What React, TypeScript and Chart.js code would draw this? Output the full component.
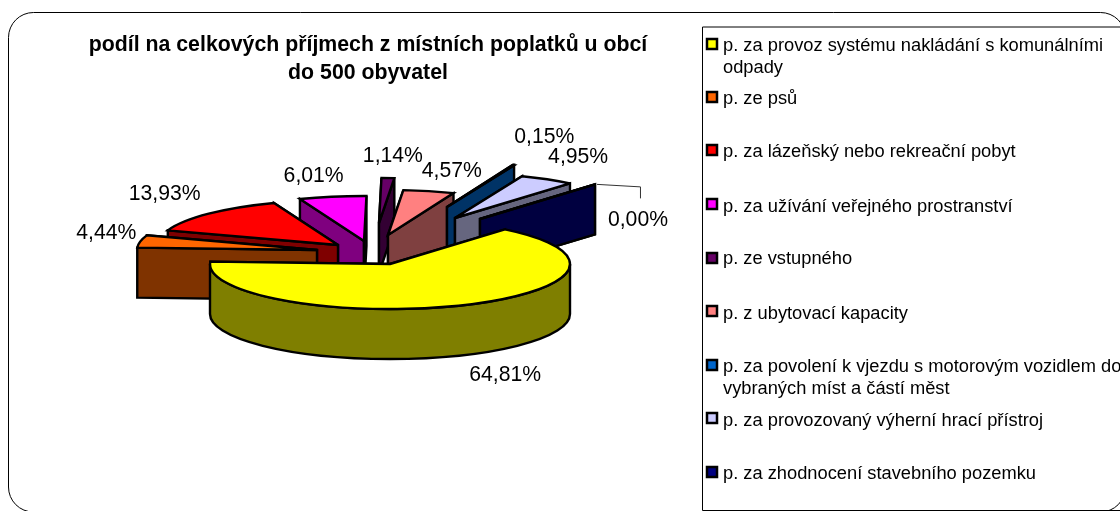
import React, { useEffect, useRef } from "react";
import { Chart, registerables } from "chart.js";

Chart.register(...registerables);

const categories = [
  "p. za provoz systému nakládání s komunálními odpady",
  "p. ze psů",
  "p. za lázeňský nebo rekreační pobyt",
  "p. za užívání veřejného prostranství",
  "p. ze vstupného",
  "p. z ubytovací kapacity",
  "p. za povolení k vjezdu s motorovým vozidlem do vybraných míst a částí měst",
  "p. za provozovaný výherní hrací přístroj",
  "p. za zhodnocení stavebního pozemku",
];
const shares = [64.81, 4.44, 13.93, 6.01, 1.14, 4.57, 0.15, 4.95, 0.0];
const shareLabels = ["64,81%", "4,44%", "13,93%", "6,01%", "1,14%", "4,57%", "0,15%", "4,95%", "0,00%"];
const titleLines = ["podíl na celkových příjmech z místních poplatků u obcí", "do 500 obyvatel"];
const sliceColors = ["#FFFF00", "#FF6600", "#FF0000", "#FF00FF", "#660066", "#FF8080", "#0066CC", "#CCCCFF", "#000080"];

// 3D presentation of the pie (exploded slices, tilt, depth, annotation placement)
const TILT = 0.25;
const DEPTH = 50;
const explodeX = [12, -61, -40, -14, 1, 10, 69, 77, 102];
const explodeY = [12, -2, -7, -11, -29, -17, -45, -34, -33];
const labelDX = [43, -34, -44, -19, 5, 23, 31, 31, 43];
const labelDY = [70, -8, -20, -21, -22, -20, -28, -22, 36];
const drawOrder = [4, 5, 6, 7, 8, 3, 2, 1, 0];
const legendTextY = [51, 104, 157, 212, 264, 319, 372, 426, 479];
const legendMarkY = [44, 97, 150, 204, 258, 311, 365, 418, 472];
const FONT = '"Liberation Sans", Arial, sans-serif';

const halfColor = (hex: string) => {
  const n = parseInt(hex.slice(1), 16);
  return `rgb(${(n >> 16) >> 1},${((n >> 8) & 255) >> 1},${(n & 255) >> 1})`;
};

const wrap = (ctx: CanvasRenderingContext2D, text: string, max: number) => {
  const lines: string[] = [];
  let cur = "";
  for (const w of text.split(" ")) {
    const t = cur ? cur + " " + w : w;
    if (ctx.measureText(t).width > max && cur) {
      lines.push(cur);
      cur = w;
    } else cur = t;
  }
  lines.push(cur);
  return lines;
};

const pie3d = {
  id: "pie3d",
  beforeDatasetsDraw(chart: any) {
    const ctx: CanvasRenderingContext2D = chart.ctx;
    const arcs = chart.getDatasetMeta(0).data;
    const colors = chart.data.datasets[0].backgroundColor as string[];
    ctx.save();

    // outer frame
    ctx.strokeStyle = "#000";
    ctx.lineWidth = 1;
    ctx.beginPath();
    ctx.roundRect(8.5, 12.5, 1117, 499.5, 25);
    ctx.stroke();

    // slices
    ctx.lineWidth = 2.4;
    ctx.lineJoin = "miter";
    ctx.miterLimit = 4;
    for (const i of drawOrder) {
      const a = arcs[i];
      const r = a.outerRadius;
      const cx = a.x + explodeX[i];
      const cy = a.y + explodeY[i];
      const s = a.startAngle;
      const e = a.endAngle;
      const wall = colors[i];
      const px = (t: number) => cx + r * Math.cos(t);
      const py = (t: number) => cy + r * TILT * Math.sin(t);
      ctx.strokeStyle = "#000";
      ctx.fillStyle = halfColor(wall);
      const radial = (t: number) => {
        ctx.beginPath();
        ctx.moveTo(cx, cy);
        ctx.lineTo(px(t), py(t));
        ctx.lineTo(px(t), py(t) + DEPTH);
        ctx.lineTo(cx, cy + DEPTH);
        ctx.closePath();
        ctx.fill();
        ctx.stroke();
      };
      const startFront = Math.sin(s - Math.PI / 2) > 0;
      const endFront = Math.sin(e + Math.PI / 2) > 0;
      if (!startFront) radial(s);
      if (!endFront) radial(e);
      if (startFront) radial(s);
      if (endFront) radial(e);
      const lo = Math.max(s, 0);
      const hi = Math.min(e, Math.PI);
      if (hi > lo) {
        ctx.beginPath();
        ctx.ellipse(cx, cy, r, r * TILT, 0, lo, hi);
        ctx.lineTo(px(hi), py(hi) + DEPTH);
        ctx.ellipse(cx, cy + DEPTH, r, r * TILT, 0, hi, lo, true);
        ctx.closePath();
        ctx.fill();
        ctx.stroke();
      }
      ctx.fillStyle = wall;
      ctx.beginPath();
      ctx.moveTo(cx, cy);
      ctx.ellipse(cx, cy, r, r * TILT, 0, s, e);
      ctx.closePath();
      ctx.fill();
      ctx.stroke();
    }

    // data labels
    ctx.font = `21.2px ${FONT}`;
    ctx.textAlign = "center";
    ctx.textBaseline = "middle";
    arcs.forEach((a: any, i: number) => {
      const m = (a.startAngle + a.endAngle) / 2;
      const mx = a.x + explodeX[i] + a.outerRadius * Math.cos(m);
      const my = a.y + explodeY[i] + a.outerRadius * TILT * Math.sin(m);
      ctx.fillStyle = "#000";
      ctx.fillText(shareLabels[i], mx + labelDX[i], my + labelDY[i]);
      if (shares[i] === 0) {
        ctx.strokeStyle = "#333";
        ctx.lineWidth = 1;
        ctx.beginPath();
        ctx.moveTo(mx + 2, my);
        ctx.lineTo(mx + 45.5, my + 2.5);
        ctx.lineTo(mx + 45.5, my + 14);
        ctx.stroke();
      }
    });

    // title
    ctx.font = `bold 21.3px ${FONT}`;
    ctx.textBaseline = "alphabetic";
    ctx.fillStyle = "#000";
    titleLines.forEach((t, i) => ctx.fillText(t, 368, 51 + i * 28));

    // legend
    ctx.strokeStyle = "#000";
    ctx.lineWidth = 1;
    ctx.beginPath();
    ctx.moveTo(1120, 27);
    ctx.lineTo(702.5, 27);
    ctx.lineTo(702.5, 510.5);
    ctx.lineTo(1120, 510.5);
    ctx.stroke();
    ctx.font = `18.3px ${FONT}`;
    ctx.textAlign = "left";
    chart.data.labels.forEach((label: string, i: number) => {
      ctx.fillStyle = colors[i];
      ctx.strokeStyle = "#000";
      ctx.lineWidth = 2.5;
      ctx.beginPath();
      ctx.rect(707, legendMarkY[i] - 5, 10, 10);
      ctx.fill();
      ctx.stroke();
      ctx.fillStyle = "#000";
      wrap(ctx, label, 425).forEach((line, k) => ctx.fillText(line, 723, legendTextY[i] + k * 21.5));
    });

    ctx.restore();
    return false;
  },
};

export default function App() {
  const ref = useRef<HTMLCanvasElement>(null);
  useEffect(() => {
    const chart = new Chart(ref.current!, {
      type: "pie",
      data: {
        labels: categories,
        datasets: [{ data: shares, backgroundColor: sliceColors, borderWidth: 0, rotation: 39.7 }],
      },
      options: {
        responsive: false,
        animation: false,
        layout: { padding: { left: 0, right: 364, top: 72, bottom: 79 } },
        plugins: { legend: { display: false }, title: { display: false }, tooltip: { enabled: false } },
      },
      plugins: [pie3d],
    } as any);
    return () => chart.destroy();
  }, []);
  return (
    <div style={{ position: "absolute", left: 0, top: 0, width: 1120, height: 511, overflow: "hidden", background: "#fff" }}>
      <canvas ref={ref} width={1120} height={511} style={{ display: "block" }} />
    </div>
  );
}
